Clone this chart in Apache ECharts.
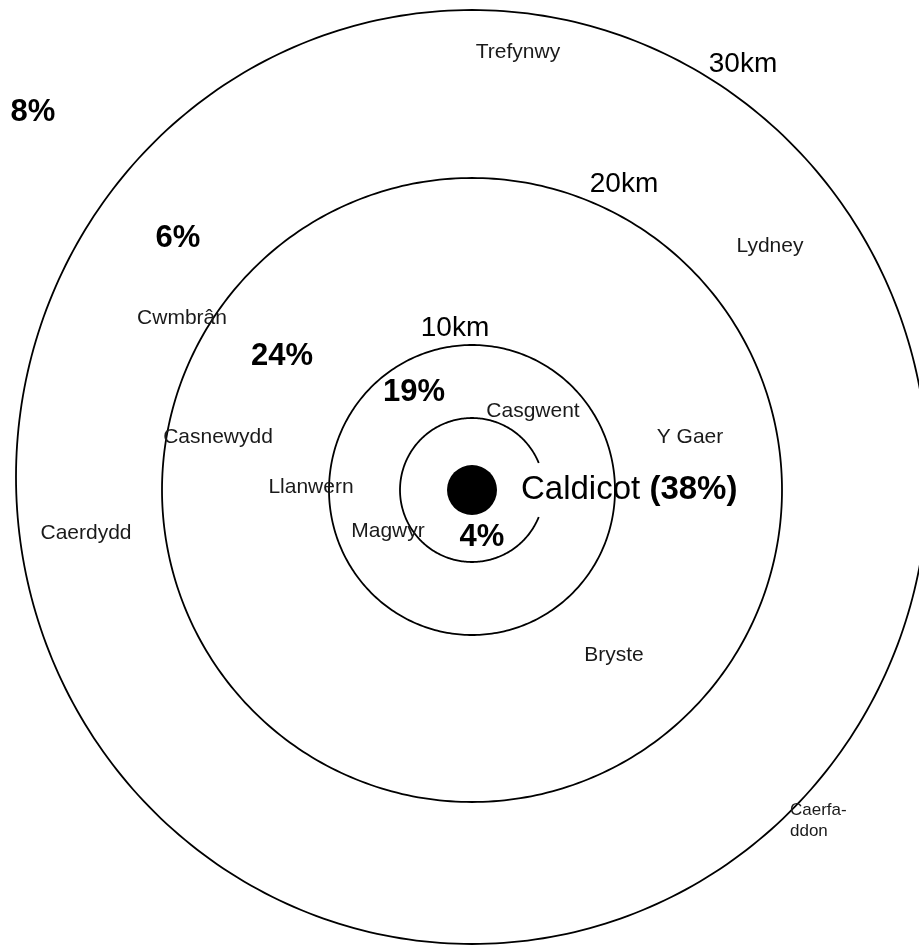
<!DOCTYPE html>
<html>
<head>
<meta charset="utf-8">
<script src="https://cdn.jsdelivr.net/npm/echarts@6/dist/echarts.min.js"></script>
<style>
  html, body { margin: 0; padding: 0; background: #fff; }
  #chart { width: 919px; height: 945px; }
</style>
</head>
<body>
<div id="chart"></div>
<script>
// rings around Caldicot (drawing units, centre = 0,0)
const ringRx = [72, 143, 310, 456];
const ringRy = [72, 145, 312, 467];
const ringCy = [0, 0, 0, 13];
const ringGap = [22, 0, 0, 0]; // half-gap in degrees on the right side

const ringLabels = ["10km", "20km", "30km"];
const ringLabelX = [-17, 152, 271];
const ringLabelY = [162, 306, 426];

// towns
const towns = ["Trefynwy", "Lydney", "Cwmbrân", "Casgwent", "Casnewydd", "Y Gaer",
  "Llanwern", "Caerdydd", "Magwyr", "Bryste"];
const townX = [46, 298, -290, 61, -254, 218, -161, -386, -84, 142];
const townY = [438, 244, 172, 79, 53, 53, 3, -43, -41, -165];

// shares by zone
const shares = ["8%", "6%", "24%", "19%", "4%"];
const shareX = [-439, -294, -190, -58, 10];
const shareY = [378, 252, 134, 98, -47];

const centreName = "Caldicot";
const centreShare = "(38%)";

const FONT = "'Liberation Sans', Arial, sans-serif";

let myChart = echarts.init(document.getElementById("chart"));

// text-only scatter series
function textSeries(data, label) {
  return {
    type: "scatter",
    data: data,
    symbolSize: 0,
    itemStyle: { opacity: 1 },
    label: Object.assign({ show: true, position: "inside", formatter: "{b}", fontFamily: FONT }, label),
    z: 4
  };
}

let option = {
  animation: false,
  backgroundColor: "#fff",
  grid: { left: 0, right: 0, top: 0, bottom: 0 },
  xAxis: { type: "value", min: -472, max: 447, show: false },
  yAxis: { type: "value", min: -455, max: 490, show: false },
  series: [
    {
      // rings
      type: "custom",
      data: ringRx.map((r, i) => [i]),
      renderItem: function (params, api) {
        let i = api.value(0);
        let c = api.coord([0, ringCy[i]]);
        let rx = api.size([ringRx[i], 0])[0];
        let ry = api.size([0, ringRy[i]])[1];
        let pts = [];
        let g = ringGap[i];
        for (let a = g; a <= 360 - g; a += 1) {
          let t = a * Math.PI / 180;
          pts.push([c[0] + rx * Math.cos(t), c[1] - ry * Math.sin(t)]);
        }
        return {
          type: "polyline",
          shape: { points: pts },
          style: { stroke: "#000", lineWidth: 1.8, fill: null }
        };
      },
      z: 1
    },
    {
      // the town itself
      type: "scatter",
      data: [[0, 0]],
      symbol: "circle",
      symbolSize: 50,
      itemStyle: { color: "#000", opacity: 1 },
      label: {
        show: true,
        position: "right",
        distance: 24,
        formatter: "{a|" + centreName + " }{b|" + centreShare + "}",
        rich: {
          a: { fontFamily: FONT, fontSize: 33, color: "#000" },
          b: { fontFamily: FONT, fontSize: 33, fontWeight: "bold", color: "#000" }
        }
      },
      z: 3
    },
    textSeries(towns.map((n, i) => ({ name: n, value: [townX[i], townY[i]] })),
      { fontSize: 21, color: "#1a1a1a" }),
    textSeries([{ name: "Caerfa-\nddon", value: [318, -331] }],
      { align: "left", fontSize: 17, lineHeight: 21, color: "#1a1a1a" }),
    textSeries(ringLabels.map((n, i) => ({ name: n, value: [ringLabelX[i], ringLabelY[i]] })),
      { fontSize: 28, color: "#000" }),
    textSeries(shares.map((n, i) => ({ name: n, value: [shareX[i], shareY[i]] })),
      { fontSize: 31, fontWeight: "bold", color: "#000" })
  ]
};
myChart.setOption(option);
</script>
</body>
</html>
